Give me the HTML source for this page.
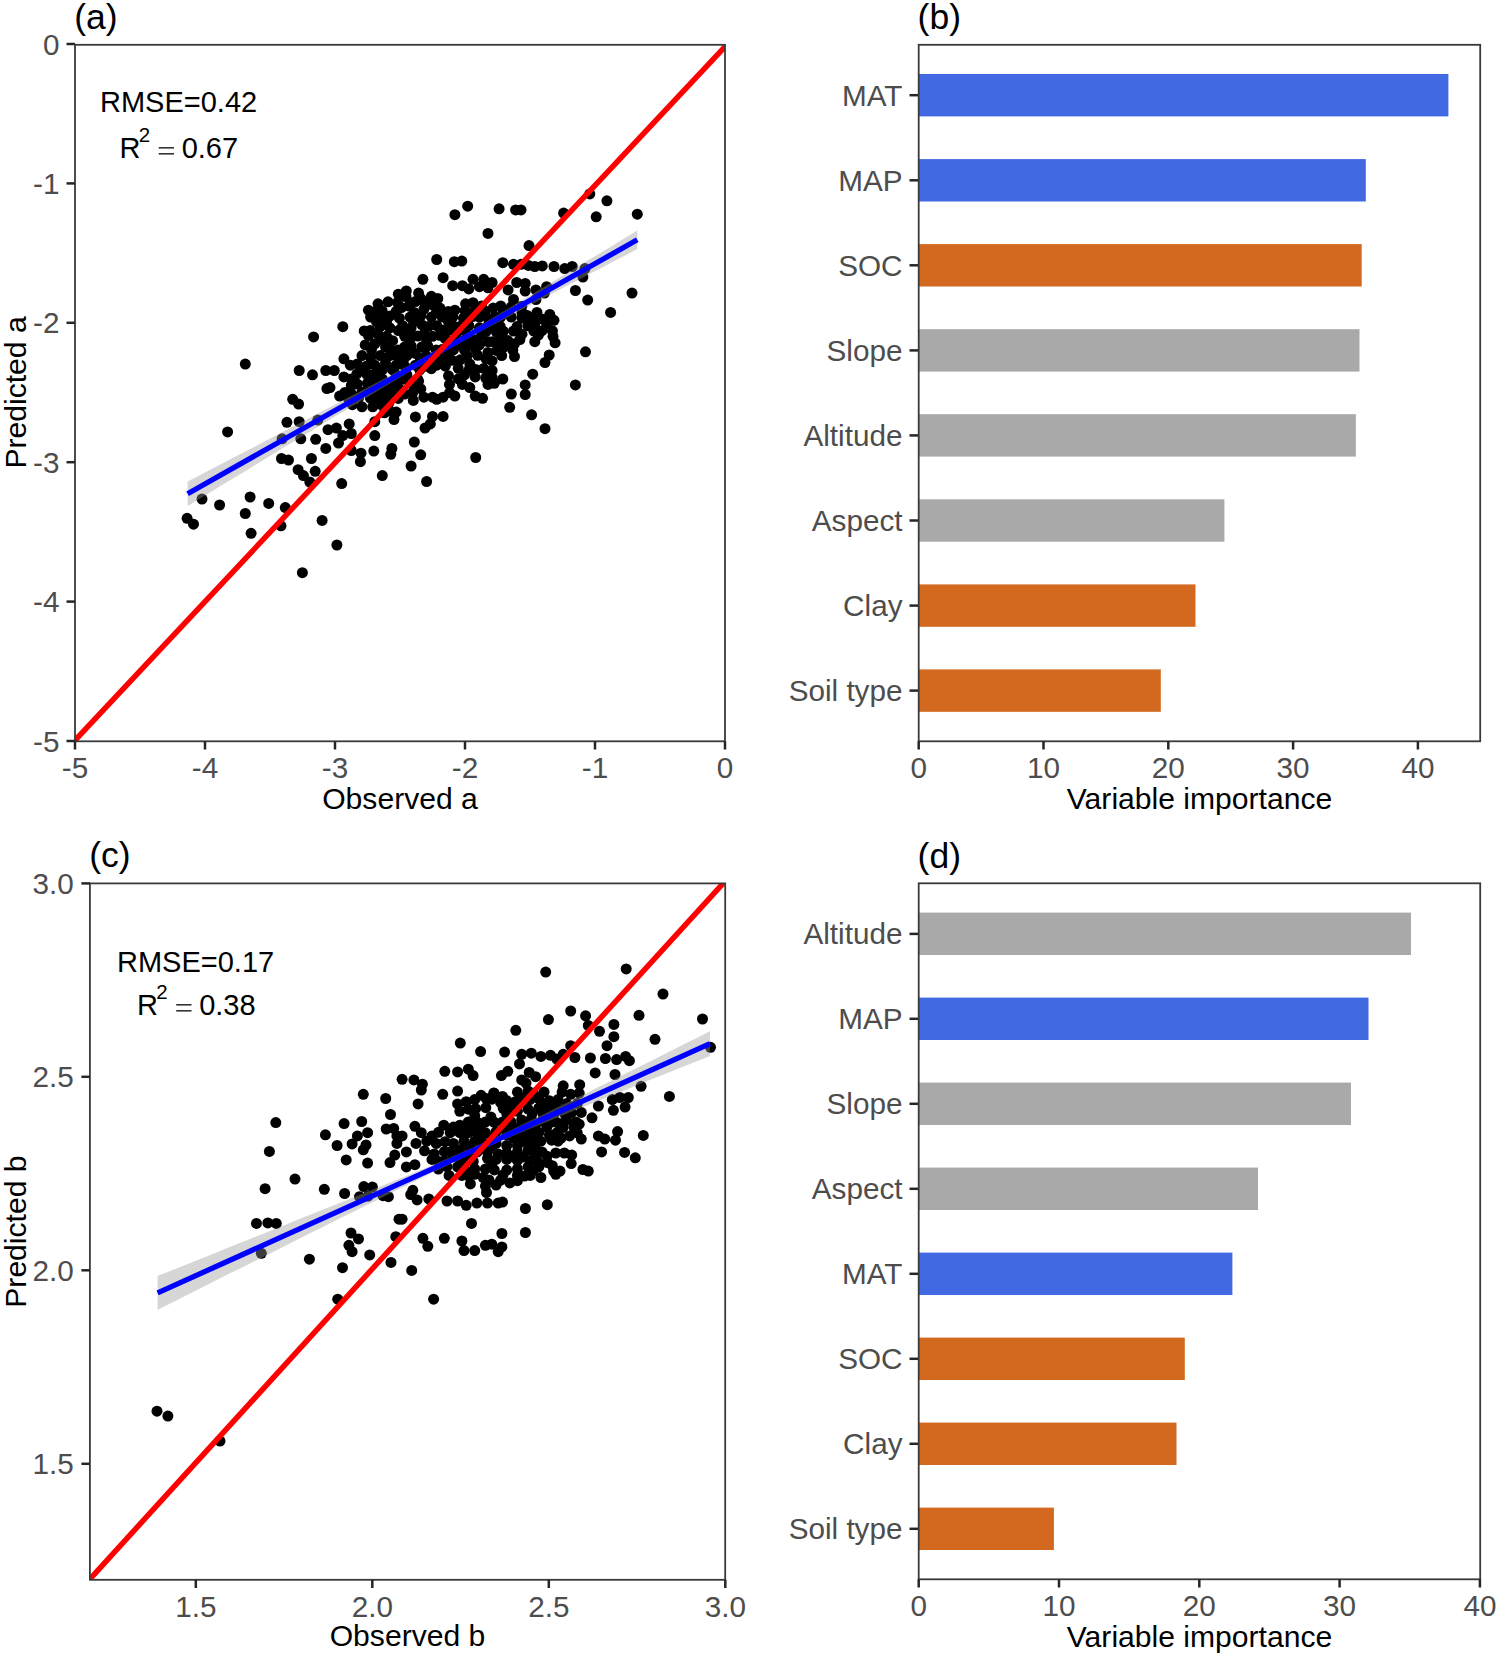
<!DOCTYPE html>
<html><head><meta charset="utf-8"><style>
html,body{margin:0;padding:0;background:#fff;}
svg{display:block;}
text{font-family:"Liberation Sans",sans-serif;}
</style></head><body>
<svg width="1499" height="1657" viewBox="0 0 1499 1657">
<rect width="1499" height="1657" fill="#fff"/>
<clipPath id="ca"><rect x="75" y="44.8" width="650" height="696.5"/></clipPath>
<g clip-path="url(#ca)">
<g fill="#000">
<circle cx="467.7" cy="206.2" r="5.5"/>
<circle cx="454.9" cy="214.7" r="5.5"/>
<circle cx="488.0" cy="233.4" r="5.5"/>
<circle cx="436.7" cy="259.5" r="5.5"/>
<circle cx="454.3" cy="261.7" r="5.5"/>
<circle cx="461.8" cy="261.1" r="5.5"/>
<circle cx="422.9" cy="279.3" r="5.5"/>
<circle cx="443.1" cy="277.7" r="5.5"/>
<circle cx="452.7" cy="285.7" r="5.5"/>
<circle cx="462.4" cy="285.7" r="5.5"/>
<circle cx="468.8" cy="288.9" r="5.5"/>
<circle cx="473.0" cy="279.3" r="5.5"/>
<circle cx="479.4" cy="286.7" r="5.5"/>
<circle cx="483.7" cy="279.3" r="5.5"/>
<circle cx="488.0" cy="287.8" r="5.5"/>
<circle cx="398.3" cy="294.2" r="5.5"/>
<circle cx="406.3" cy="291.0" r="5.5"/>
<circle cx="418.6" cy="293.1" r="5.5"/>
<circle cx="420.7" cy="298.5" r="5.5"/>
<circle cx="431.4" cy="296.3" r="5.5"/>
<circle cx="437.8" cy="298.5" r="5.5"/>
<circle cx="378.0" cy="303.8" r="5.5"/>
<circle cx="368.4" cy="310.2" r="5.5"/>
<circle cx="409.0" cy="306.0" r="5.5"/>
<circle cx="396.2" cy="311.3" r="5.5"/>
<circle cx="423.9" cy="309.2" r="5.5"/>
<circle cx="432.5" cy="304.9" r="5.5"/>
<circle cx="439.9" cy="308.1" r="5.5"/>
<circle cx="454.9" cy="310.2" r="5.5"/>
<circle cx="465.6" cy="303.8" r="5.5"/>
<circle cx="473.0" cy="302.7" r="5.5"/>
<circle cx="481.6" cy="306.0" r="5.5"/>
<circle cx="499.1" cy="208.8" r="5.5"/>
<circle cx="515.6" cy="209.9" r="5.5"/>
<circle cx="521.0" cy="209.9" r="5.5"/>
<circle cx="589.8" cy="193.9" r="5.5"/>
<circle cx="606.9" cy="200.8" r="5.5"/>
<circle cx="563.6" cy="213.1" r="5.5"/>
<circle cx="596.2" cy="216.8" r="5.5"/>
<circle cx="637.3" cy="214.2" r="5.5"/>
<circle cx="529.0" cy="245.6" r="5.5"/>
<circle cx="502.8" cy="262.7" r="5.5"/>
<circle cx="513.5" cy="264.3" r="5.5"/>
<circle cx="521.0" cy="264.3" r="5.5"/>
<circle cx="528.4" cy="265.4" r="5.5"/>
<circle cx="534.8" cy="266.5" r="5.5"/>
<circle cx="542.3" cy="265.9" r="5.5"/>
<circle cx="554.0" cy="266.5" r="5.5"/>
<circle cx="564.7" cy="268.6" r="5.5"/>
<circle cx="572.2" cy="266.5" r="5.5"/>
<circle cx="585.0" cy="268.6" r="5.5"/>
<circle cx="582.9" cy="277.1" r="5.5"/>
<circle cx="492.1" cy="282.5" r="5.5"/>
<circle cx="516.7" cy="282.5" r="5.5"/>
<circle cx="525.2" cy="283.5" r="5.5"/>
<circle cx="508.1" cy="289.9" r="5.5"/>
<circle cx="525.2" cy="291.0" r="5.5"/>
<circle cx="535.9" cy="289.9" r="5.5"/>
<circle cx="546.6" cy="286.7" r="5.5"/>
<circle cx="544.4" cy="293.1" r="5.5"/>
<circle cx="575.4" cy="290.5" r="5.5"/>
<circle cx="587.7" cy="300.1" r="5.5"/>
<circle cx="632.0" cy="293.1" r="5.5"/>
<circle cx="535.9" cy="299.5" r="5.5"/>
<circle cx="513.5" cy="299.5" r="5.5"/>
<circle cx="500.7" cy="306.0" r="5.5"/>
<circle cx="493.2" cy="308.1" r="5.5"/>
<circle cx="522.0" cy="312.4" r="5.5"/>
<circle cx="537.0" cy="312.4" r="5.5"/>
<circle cx="549.8" cy="314.5" r="5.5"/>
<circle cx="610.6" cy="312.4" r="5.5"/>
<circle cx="370.6" cy="317.1" r="5.5"/>
<circle cx="380.2" cy="317.1" r="5.5"/>
<circle cx="389.8" cy="316.1" r="5.5"/>
<circle cx="399.4" cy="318.2" r="5.5"/>
<circle cx="410.1" cy="317.1" r="5.5"/>
<circle cx="420.7" cy="316.1" r="5.5"/>
<circle cx="431.4" cy="317.1" r="5.5"/>
<circle cx="442.1" cy="317.1" r="5.5"/>
<circle cx="452.7" cy="317.1" r="5.5"/>
<circle cx="463.4" cy="318.2" r="5.5"/>
<circle cx="479.4" cy="317.1" r="5.5"/>
<circle cx="488.0" cy="318.2" r="5.5"/>
<circle cx="342.8" cy="326.7" r="5.5"/>
<circle cx="364.2" cy="331.0" r="5.5"/>
<circle cx="380.2" cy="326.7" r="5.5"/>
<circle cx="389.8" cy="327.8" r="5.5"/>
<circle cx="402.6" cy="325.7" r="5.5"/>
<circle cx="411.1" cy="327.8" r="5.5"/>
<circle cx="436.7" cy="325.7" r="5.5"/>
<circle cx="442.1" cy="329.9" r="5.5"/>
<circle cx="468.8" cy="325.7" r="5.5"/>
<circle cx="479.4" cy="327.8" r="5.5"/>
<circle cx="488.0" cy="325.7" r="5.5"/>
<circle cx="378.0" cy="334.2" r="5.5"/>
<circle cx="386.6" cy="336.3" r="5.5"/>
<circle cx="404.7" cy="336.3" r="5.5"/>
<circle cx="409.0" cy="333.1" r="5.5"/>
<circle cx="423.9" cy="334.2" r="5.5"/>
<circle cx="432.5" cy="336.3" r="5.5"/>
<circle cx="445.3" cy="338.5" r="5.5"/>
<circle cx="456.0" cy="334.2" r="5.5"/>
<circle cx="468.8" cy="336.3" r="5.5"/>
<circle cx="481.6" cy="335.3" r="5.5"/>
<circle cx="365.2" cy="344.9" r="5.5"/>
<circle cx="374.8" cy="343.8" r="5.5"/>
<circle cx="385.5" cy="347.0" r="5.5"/>
<circle cx="390.8" cy="350.2" r="5.5"/>
<circle cx="404.7" cy="347.0" r="5.5"/>
<circle cx="411.1" cy="346.0" r="5.5"/>
<circle cx="421.8" cy="347.0" r="5.5"/>
<circle cx="447.4" cy="347.0" r="5.5"/>
<circle cx="458.1" cy="344.9" r="5.5"/>
<circle cx="468.8" cy="344.9" r="5.5"/>
<circle cx="479.4" cy="344.9" r="5.5"/>
<circle cx="488.0" cy="341.7" r="5.5"/>
<circle cx="343.9" cy="358.8" r="5.5"/>
<circle cx="362.0" cy="355.6" r="5.5"/>
<circle cx="370.6" cy="357.7" r="5.5"/>
<circle cx="380.2" cy="355.6" r="5.5"/>
<circle cx="389.8" cy="355.6" r="5.5"/>
<circle cx="398.3" cy="357.7" r="5.5"/>
<circle cx="406.9" cy="355.6" r="5.5"/>
<circle cx="415.4" cy="353.4" r="5.5"/>
<circle cx="426.1" cy="355.6" r="5.5"/>
<circle cx="436.7" cy="355.6" r="5.5"/>
<circle cx="447.4" cy="355.6" r="5.5"/>
<circle cx="460.2" cy="359.8" r="5.5"/>
<circle cx="488.0" cy="352.4" r="5.5"/>
<circle cx="334.3" cy="370.5" r="5.5"/>
<circle cx="350.3" cy="365.2" r="5.5"/>
<circle cx="366.3" cy="366.2" r="5.5"/>
<circle cx="374.8" cy="365.2" r="5.5"/>
<circle cx="385.5" cy="363.0" r="5.5"/>
<circle cx="396.2" cy="365.2" r="5.5"/>
<circle cx="404.7" cy="366.2" r="5.5"/>
<circle cx="415.4" cy="365.2" r="5.5"/>
<circle cx="426.1" cy="366.2" r="5.5"/>
<circle cx="436.7" cy="365.2" r="5.5"/>
<circle cx="445.3" cy="366.2" r="5.5"/>
<circle cx="469.8" cy="364.1" r="5.5"/>
<circle cx="483.7" cy="368.4" r="5.5"/>
<circle cx="343.9" cy="376.9" r="5.5"/>
<circle cx="351.3" cy="379.0" r="5.5"/>
<circle cx="372.7" cy="374.8" r="5.5"/>
<circle cx="382.3" cy="379.0" r="5.5"/>
<circle cx="396.2" cy="374.8" r="5.5"/>
<circle cx="406.9" cy="374.8" r="5.5"/>
<circle cx="417.5" cy="379.0" r="5.5"/>
<circle cx="448.5" cy="375.8" r="5.5"/>
<circle cx="464.5" cy="374.8" r="5.5"/>
<circle cx="475.2" cy="376.9" r="5.5"/>
<circle cx="485.8" cy="378.0" r="5.5"/>
<circle cx="330.0" cy="387.6" r="5.5"/>
<circle cx="351.3" cy="385.4" r="5.5"/>
<circle cx="381.2" cy="385.4" r="5.5"/>
<circle cx="389.8" cy="387.6" r="5.5"/>
<circle cx="413.3" cy="385.4" r="5.5"/>
<circle cx="418.6" cy="381.2" r="5.5"/>
<circle cx="449.5" cy="384.4" r="5.5"/>
<circle cx="462.4" cy="384.4" r="5.5"/>
<circle cx="469.8" cy="387.6" r="5.5"/>
<circle cx="488.0" cy="384.4" r="5.5"/>
<circle cx="339.6" cy="396.1" r="5.5"/>
<circle cx="362.0" cy="391.9" r="5.5"/>
<circle cx="377.0" cy="391.9" r="5.5"/>
<circle cx="388.7" cy="394.0" r="5.5"/>
<circle cx="404.7" cy="394.0" r="5.5"/>
<circle cx="413.3" cy="400.4" r="5.5"/>
<circle cx="423.9" cy="397.2" r="5.5"/>
<circle cx="432.5" cy="397.2" r="5.5"/>
<circle cx="436.7" cy="399.3" r="5.5"/>
<circle cx="443.1" cy="397.2" r="5.5"/>
<circle cx="454.9" cy="396.1" r="5.5"/>
<circle cx="475.2" cy="396.1" r="5.5"/>
<circle cx="482.6" cy="398.3" r="5.5"/>
<circle cx="352.4" cy="404.7" r="5.5"/>
<circle cx="362.0" cy="406.8" r="5.5"/>
<circle cx="372.7" cy="406.8" r="5.5"/>
<circle cx="381.2" cy="404.7" r="5.5"/>
<circle cx="389.8" cy="411.1" r="5.5"/>
<circle cx="396.2" cy="412.1" r="5.5"/>
<circle cx="415.4" cy="416.9" r="5.5"/>
<circle cx="432.5" cy="416.4" r="5.5"/>
<circle cx="443.1" cy="416.4" r="5.5"/>
<circle cx="394.0" cy="419.6" r="5.5"/>
<circle cx="349.2" cy="423.9" r="5.5"/>
<circle cx="336.4" cy="428.1" r="5.5"/>
<circle cx="374.8" cy="421.7" r="5.5"/>
<circle cx="425.0" cy="428.1" r="5.5"/>
<circle cx="430.3" cy="423.9" r="5.5"/>
<circle cx="342.8" cy="435.6" r="5.5"/>
<circle cx="351.3" cy="433.5" r="5.5"/>
<circle cx="338.5" cy="443.1" r="5.5"/>
<circle cx="374.8" cy="435.6" r="5.5"/>
<circle cx="414.3" cy="442.0" r="5.5"/>
<circle cx="391.9" cy="448.4" r="5.5"/>
<circle cx="500.7" cy="317.1" r="5.5"/>
<circle cx="511.3" cy="317.1" r="5.5"/>
<circle cx="522.0" cy="318.2" r="5.5"/>
<circle cx="532.7" cy="318.2" r="5.5"/>
<circle cx="543.4" cy="319.3" r="5.5"/>
<circle cx="554.0" cy="320.3" r="5.5"/>
<circle cx="534.8" cy="323.5" r="5.5"/>
<circle cx="546.6" cy="323.5" r="5.5"/>
<circle cx="513.5" cy="331.0" r="5.5"/>
<circle cx="522.0" cy="334.2" r="5.5"/>
<circle cx="533.8" cy="331.0" r="5.5"/>
<circle cx="534.8" cy="341.7" r="5.5"/>
<circle cx="553.0" cy="336.3" r="5.5"/>
<circle cx="555.1" cy="342.8" r="5.5"/>
<circle cx="496.4" cy="332.1" r="5.5"/>
<circle cx="492.1" cy="341.7" r="5.5"/>
<circle cx="503.9" cy="347.0" r="5.5"/>
<circle cx="514.5" cy="343.8" r="5.5"/>
<circle cx="501.7" cy="355.6" r="5.5"/>
<circle cx="514.5" cy="356.6" r="5.5"/>
<circle cx="492.1" cy="360.9" r="5.5"/>
<circle cx="492.1" cy="370.5" r="5.5"/>
<circle cx="494.3" cy="383.3" r="5.5"/>
<circle cx="502.8" cy="379.0" r="5.5"/>
<circle cx="549.2" cy="355.0" r="5.5"/>
<circle cx="545.0" cy="362.5" r="5.5"/>
<circle cx="532.7" cy="374.2" r="5.5"/>
<circle cx="525.2" cy="384.9" r="5.5"/>
<circle cx="525.2" cy="394.5" r="5.5"/>
<circle cx="511.3" cy="394.0" r="5.5"/>
<circle cx="509.7" cy="407.3" r="5.5"/>
<circle cx="531.6" cy="414.8" r="5.5"/>
<circle cx="545.0" cy="428.7" r="5.5"/>
<circle cx="585.5" cy="351.8" r="5.5"/>
<circle cx="575.4" cy="384.9" r="5.5"/>
<circle cx="313.6" cy="336.9" r="5.5"/>
<circle cx="245.3" cy="364.1" r="5.5"/>
<circle cx="299.2" cy="370.5" r="5.5"/>
<circle cx="312.5" cy="374.8" r="5.5"/>
<circle cx="325.8" cy="370.5" r="5.5"/>
<circle cx="326.9" cy="388.6" r="5.5"/>
<circle cx="292.7" cy="399.3" r="5.5"/>
<circle cx="298.6" cy="404.1" r="5.5"/>
<circle cx="286.9" cy="422.3" r="5.5"/>
<circle cx="299.2" cy="421.7" r="5.5"/>
<circle cx="317.8" cy="420.1" r="5.5"/>
<circle cx="328.0" cy="429.7" r="5.5"/>
<circle cx="227.6" cy="431.9" r="5.5"/>
<circle cx="282.1" cy="438.8" r="5.5"/>
<circle cx="300.8" cy="438.8" r="5.5"/>
<circle cx="315.7" cy="439.3" r="5.5"/>
<circle cx="325.8" cy="448.4" r="5.5"/>
<circle cx="281.5" cy="458.5" r="5.5"/>
<circle cx="288.5" cy="460.1" r="5.5"/>
<circle cx="311.4" cy="458.5" r="5.5"/>
<circle cx="298.1" cy="469.7" r="5.5"/>
<circle cx="303.4" cy="475.6" r="5.5"/>
<circle cx="315.2" cy="471.3" r="5.5"/>
<circle cx="309.8" cy="482.0" r="5.5"/>
<circle cx="202.0" cy="499.1" r="5.5"/>
<circle cx="219.6" cy="505.0" r="5.5"/>
<circle cx="250.1" cy="497.0" r="5.5"/>
<circle cx="268.7" cy="503.4" r="5.5"/>
<circle cx="285.3" cy="507.6" r="5.5"/>
<circle cx="245.3" cy="513.5" r="5.5"/>
<circle cx="187.1" cy="518.3" r="5.5"/>
<circle cx="193.5" cy="524.2" r="5.5"/>
<circle cx="251.1" cy="533.3" r="5.5"/>
<circle cx="281.0" cy="525.8" r="5.5"/>
<circle cx="322.1" cy="520.4" r="5.5"/>
<circle cx="302.4" cy="572.7" r="5.5"/>
<circle cx="361.0" cy="453.2" r="5.5"/>
<circle cx="351.3" cy="450.5" r="5.5"/>
<circle cx="373.8" cy="451.1" r="5.5"/>
<circle cx="390.8" cy="454.3" r="5.5"/>
<circle cx="420.7" cy="454.8" r="5.5"/>
<circle cx="360.4" cy="461.7" r="5.5"/>
<circle cx="411.1" cy="466.0" r="5.5"/>
<circle cx="382.3" cy="475.6" r="5.5"/>
<circle cx="426.6" cy="481.5" r="5.5"/>
<circle cx="341.7" cy="483.6" r="5.5"/>
<circle cx="475.7" cy="457.5" r="5.5"/>
<circle cx="336.9" cy="545.0" r="5.5"/>
<circle cx="406.1" cy="296.9" r="5.5"/>
<circle cx="388.0" cy="301.8" r="5.5"/>
<circle cx="397.5" cy="302.5" r="5.5"/>
<circle cx="415.4" cy="301.6" r="5.5"/>
<circle cx="424.8" cy="302.3" r="5.5"/>
<circle cx="401.4" cy="307.6" r="5.5"/>
<circle cx="511.2" cy="307.2" r="5.5"/>
<circle cx="521.8" cy="306.2" r="5.5"/>
<circle cx="375.5" cy="311.7" r="5.5"/>
<circle cx="382.1" cy="310.6" r="5.5"/>
<circle cx="414.1" cy="312.4" r="5.5"/>
<circle cx="436.4" cy="312.4" r="5.5"/>
<circle cx="448.2" cy="311.4" r="5.5"/>
<circle cx="465.0" cy="310.8" r="5.5"/>
<circle cx="474.3" cy="311.1" r="5.5"/>
<circle cx="485.1" cy="310.9" r="5.5"/>
<circle cx="503.2" cy="310.9" r="5.5"/>
<circle cx="472.6" cy="316.6" r="5.5"/>
<circle cx="495.0" cy="316.9" r="5.5"/>
<circle cx="527.2" cy="315.4" r="5.5"/>
<circle cx="376.5" cy="321.7" r="5.5"/>
<circle cx="386.5" cy="321.2" r="5.5"/>
<circle cx="413.6" cy="321.9" r="5.5"/>
<circle cx="448.4" cy="321.6" r="5.5"/>
<circle cx="422.0" cy="324.9" r="5.5"/>
<circle cx="428.6" cy="326.4" r="5.5"/>
<circle cx="454.9" cy="326.8" r="5.5"/>
<circle cx="461.5" cy="325.6" r="5.5"/>
<circle cx="494.7" cy="326.4" r="5.5"/>
<circle cx="500.2" cy="326.4" r="5.5"/>
<circle cx="517.0" cy="326.6" r="5.5"/>
<circle cx="527.9" cy="325.8" r="5.5"/>
<circle cx="370.2" cy="330.5" r="5.5"/>
<circle cx="398.4" cy="330.6" r="5.5"/>
<circle cx="447.9" cy="330.3" r="5.5"/>
<circle cx="464.1" cy="330.7" r="5.5"/>
<circle cx="486.0" cy="331.5" r="5.5"/>
<circle cx="503.4" cy="331.3" r="5.5"/>
<circle cx="542.0" cy="330.7" r="5.5"/>
<circle cx="552.4" cy="330.8" r="5.5"/>
<circle cx="368.5" cy="335.7" r="5.5"/>
<circle cx="417.8" cy="336.1" r="5.5"/>
<circle cx="439.3" cy="335.3" r="5.5"/>
<circle cx="500.4" cy="336.4" r="5.5"/>
<circle cx="538.4" cy="335.2" r="5.5"/>
<circle cx="381.7" cy="339.8" r="5.5"/>
<circle cx="392.6" cy="340.7" r="5.5"/>
<circle cx="409.5" cy="340.2" r="5.5"/>
<circle cx="426.5" cy="339.7" r="5.5"/>
<circle cx="453.3" cy="341.2" r="5.5"/>
<circle cx="463.7" cy="341.1" r="5.5"/>
<circle cx="475.2" cy="340.1" r="5.5"/>
<circle cx="507.8" cy="340.6" r="5.5"/>
<circle cx="519.9" cy="339.5" r="5.5"/>
<circle cx="427.7" cy="345.8" r="5.5"/>
<circle cx="498.8" cy="344.1" r="5.5"/>
<circle cx="371.5" cy="349.5" r="5.5"/>
<circle cx="398.1" cy="349.9" r="5.5"/>
<circle cx="436.1" cy="349.9" r="5.5"/>
<circle cx="442.0" cy="349.6" r="5.5"/>
<circle cx="453.4" cy="349.9" r="5.5"/>
<circle cx="464.5" cy="350.2" r="5.5"/>
<circle cx="475.4" cy="349.1" r="5.5"/>
<circle cx="496.7" cy="350.6" r="5.5"/>
<circle cx="512.8" cy="350.0" r="5.5"/>
<circle cx="467.2" cy="355.6" r="5.5"/>
<circle cx="477.6" cy="355.3" r="5.5"/>
<circle cx="403.4" cy="360.0" r="5.5"/>
<circle cx="420.4" cy="359.5" r="5.5"/>
<circle cx="430.3" cy="359.7" r="5.5"/>
<circle cx="442.3" cy="359.3" r="5.5"/>
<circle cx="452.1" cy="360.3" r="5.5"/>
<circle cx="485.9" cy="358.7" r="5.5"/>
<circle cx="357.3" cy="363.9" r="5.5"/>
<circle cx="360.5" cy="369.1" r="5.5"/>
<circle cx="382.5" cy="369.5" r="5.5"/>
<circle cx="392.5" cy="369.6" r="5.5"/>
<circle cx="419.8" cy="369.9" r="5.5"/>
<circle cx="431.3" cy="368.7" r="5.5"/>
<circle cx="458.2" cy="368.3" r="5.5"/>
<circle cx="469.1" cy="369.7" r="5.5"/>
<circle cx="475.6" cy="369.5" r="5.5"/>
<circle cx="356.9" cy="373.9" r="5.5"/>
<circle cx="367.1" cy="374.6" r="5.5"/>
<circle cx="378.4" cy="374.2" r="5.5"/>
<circle cx="403.5" cy="379.2" r="5.5"/>
<circle cx="458.4" cy="378.8" r="5.5"/>
<circle cx="492.3" cy="377.9" r="5.5"/>
<circle cx="357.3" cy="384.1" r="5.5"/>
<circle cx="367.4" cy="383.3" r="5.5"/>
<circle cx="373.7" cy="382.4" r="5.5"/>
<circle cx="395.5" cy="382.9" r="5.5"/>
<circle cx="398.8" cy="388.4" r="5.5"/>
<circle cx="420.8" cy="388.9" r="5.5"/>
<circle cx="344.9" cy="392.4" r="5.5"/>
<circle cx="351.5" cy="393.8" r="5.5"/>
<circle cx="367.6" cy="392.6" r="5.5"/>
<circle cx="383.5" cy="392.2" r="5.5"/>
<circle cx="394.6" cy="392.3" r="5.5"/>
<circle cx="412.6" cy="393.0" r="5.5"/>
<circle cx="449.6" cy="392.6" r="5.5"/>
<circle cx="348.5" cy="398.6" r="5.5"/>
<circle cx="358.7" cy="397.5" r="5.5"/>
<circle cx="370.3" cy="398.0" r="5.5"/>
<circle cx="376.2" cy="397.8" r="5.5"/>
<circle cx="381.8" cy="398.0" r="5.5"/>
<circle cx="398.2" cy="398.4" r="5.5"/>
<circle cx="388.9" cy="402.9" r="5.5"/>
<circle cx="384.4" cy="412.8" r="5.5"/>
</g>
<polygon points="187.6,481.5 198.8,475.7 210.1,469.8 221.3,464.0 232.6,458.1 243.8,452.2 255.1,446.4 266.3,440.5 277.5,434.7 288.8,428.8 300.0,422.9 311.3,417.0 322.5,411.2 333.8,405.3 345.0,399.3 356.2,393.4 367.5,387.5 378.7,381.5 390.0,375.5 401.2,369.5 412.4,363.4 423.7,357.3 434.9,351.1 446.2,344.7 457.4,338.4 468.7,331.9 479.9,325.3 491.1,318.7 502.4,312.0 513.6,305.3 524.9,298.6 536.1,291.8 547.4,285.1 558.6,278.3 569.8,271.5 581.1,264.6 592.3,257.8 603.6,251.0 614.8,244.2 626.1,237.3 637.3,230.5 637.3,249.1 626.1,255.0 614.8,260.8 603.6,266.7 592.3,272.6 581.1,278.5 569.8,284.3 558.6,290.2 547.4,296.1 536.1,302.1 524.9,308.0 513.6,314.0 502.4,320.0 491.1,326.0 479.9,332.1 468.7,338.2 457.4,344.4 446.2,350.8 434.9,357.1 423.7,363.6 412.4,370.2 401.2,376.8 390.0,383.5 378.7,390.2 367.5,396.9 356.2,403.7 345.0,410.5 333.8,417.2 322.5,424.0 311.3,430.9 300.0,437.7 288.8,444.5 277.5,451.3 266.3,458.2 255.1,465.0 243.8,471.9 232.6,478.7 221.3,485.5 210.1,492.4 198.8,499.2 187.6,506.1" fill="#999999" fill-opacity="0.4"/>
<polyline points="187.6,493.8 637.3,239.8" fill="none" stroke="#0000ff" stroke-width="5.3"/>
<line x1="74.4" y1="741.0" x2="727.5" y2="44.0" stroke="#ff0000" stroke-width="5.5"/>
</g>
<rect x="75" y="44.8" width="650" height="696.5" fill="none" stroke="#3a3a3a" stroke-width="1.8"/>
<line x1="75" y1="741.3" x2="75" y2="749.5" stroke="#262626" stroke-width="2.5"/>
<text x="75.0" y="778.3" font-size="29.7" fill="#4d4d4d" text-anchor="middle" >-5</text>
<line x1="66.5" y1="741.0" x2="75" y2="741.0" stroke="#262626" stroke-width="2.5"/>
<text x="59.5" y="751.5" font-size="29.7" fill="#4d4d4d" text-anchor="end" >-5</text>
<line x1="205" y1="741.3" x2="205" y2="749.5" stroke="#262626" stroke-width="2.5"/>
<text x="205.0" y="778.3" font-size="29.7" fill="#4d4d4d" text-anchor="middle" >-4</text>
<line x1="66.5" y1="601.6" x2="75" y2="601.6" stroke="#262626" stroke-width="2.5"/>
<text x="59.5" y="612.1" font-size="29.7" fill="#4d4d4d" text-anchor="end" >-4</text>
<line x1="335" y1="741.3" x2="335" y2="749.5" stroke="#262626" stroke-width="2.5"/>
<text x="335.0" y="778.3" font-size="29.7" fill="#4d4d4d" text-anchor="middle" >-3</text>
<line x1="66.5" y1="462.20000000000005" x2="75" y2="462.20000000000005" stroke="#262626" stroke-width="2.5"/>
<text x="59.5" y="472.7" font-size="29.7" fill="#4d4d4d" text-anchor="end" >-3</text>
<line x1="465" y1="741.3" x2="465" y2="749.5" stroke="#262626" stroke-width="2.5"/>
<text x="465.0" y="778.3" font-size="29.7" fill="#4d4d4d" text-anchor="middle" >-2</text>
<line x1="66.5" y1="322.8" x2="75" y2="322.8" stroke="#262626" stroke-width="2.5"/>
<text x="59.5" y="333.3" font-size="29.7" fill="#4d4d4d" text-anchor="end" >-2</text>
<line x1="595" y1="741.3" x2="595" y2="749.5" stroke="#262626" stroke-width="2.5"/>
<text x="595.0" y="778.3" font-size="29.7" fill="#4d4d4d" text-anchor="middle" >-1</text>
<line x1="66.5" y1="183.4" x2="75" y2="183.4" stroke="#262626" stroke-width="2.5"/>
<text x="59.5" y="193.9" font-size="29.7" fill="#4d4d4d" text-anchor="end" >-1</text>
<line x1="725" y1="741.3" x2="725" y2="749.5" stroke="#262626" stroke-width="2.5"/>
<text x="725.0" y="778.3" font-size="29.7" fill="#4d4d4d" text-anchor="middle" >0</text>
<line x1="66.5" y1="44.0" x2="75" y2="44.0" stroke="#262626" stroke-width="2.5"/>
<text x="59.5" y="54.5" font-size="29.7" fill="#4d4d4d" text-anchor="end" >0</text>
<text x="400.0" y="808.6" font-size="30.1" fill="#000" text-anchor="middle" >Observed a</text>
<text transform="translate(26.1,392.5) rotate(-90)" font-size="30.1" text-anchor="middle" fill="#000">Predicted a</text>
<text x="74.3" y="28.6" font-size="35.5" fill="#000" text-anchor="start" >(a)</text>
<text x="100.0" y="111.8" font-size="29.0" fill="#000" text-anchor="start" >RMSE=0.42</text>
<text x="119.5" y="158.3" font-size="29.0" fill="#000">R</text>
<text x="138.8" y="142.4" font-size="20.5" fill="#000">2</text>
<line x1="158.7" y1="147.8" x2="174.0" y2="147.8" stroke="#333" stroke-width="1.6"/>
<line x1="158.7" y1="153.8" x2="174.0" y2="153.8" stroke="#333" stroke-width="1.6"/>
<text x="181.7" y="158.3" font-size="29.0" fill="#000">0.67</text>
<clipPath id="cc"><rect x="89.9" y="883.4" width="635.3000000000001" height="696.4"/></clipPath>
<g clip-path="url(#cc)">
<g fill="#000">
<circle cx="157.0" cy="1411.2" r="5.5"/>
<circle cx="167.9" cy="1416.1" r="5.5"/>
<circle cx="220.0" cy="1441.1" r="5.5"/>
<circle cx="545.7" cy="972.1" r="5.5"/>
<circle cx="548.4" cy="1019.6" r="5.5"/>
<circle cx="515.8" cy="1030.3" r="5.5"/>
<circle cx="460.3" cy="1043.1" r="5.5"/>
<circle cx="480.6" cy="1051.6" r="5.5"/>
<circle cx="504.6" cy="1052.1" r="5.5"/>
<circle cx="521.7" cy="1054.3" r="5.5"/>
<circle cx="531.3" cy="1053.2" r="5.5"/>
<circle cx="540.9" cy="1056.4" r="5.5"/>
<circle cx="550.5" cy="1055.3" r="5.5"/>
<circle cx="556.9" cy="1059.1" r="5.5"/>
<circle cx="519.5" cy="1063.9" r="5.5"/>
<circle cx="444.8" cy="1071.3" r="5.5"/>
<circle cx="457.6" cy="1071.9" r="5.5"/>
<circle cx="468.3" cy="1069.2" r="5.5"/>
<circle cx="473.1" cy="1075.6" r="5.5"/>
<circle cx="501.4" cy="1075.6" r="5.5"/>
<circle cx="507.8" cy="1071.3" r="5.5"/>
<circle cx="529.2" cy="1072.4" r="5.5"/>
<circle cx="535.6" cy="1076.7" r="5.5"/>
<circle cx="526.0" cy="1083.1" r="5.5"/>
<circle cx="521.7" cy="1079.9" r="5.5"/>
<circle cx="402.1" cy="1079.3" r="5.5"/>
<circle cx="413.9" cy="1079.9" r="5.5"/>
<circle cx="422.4" cy="1084.2" r="5.5"/>
<circle cx="626.2" cy="968.9" r="5.5"/>
<circle cx="663.0" cy="994.0" r="5.5"/>
<circle cx="570.7" cy="1011.0" r="5.5"/>
<circle cx="585.6" cy="1015.8" r="5.5"/>
<circle cx="588.3" cy="1025.4" r="5.5"/>
<circle cx="599.5" cy="1031.3" r="5.5"/>
<circle cx="613.9" cy="1024.4" r="5.5"/>
<circle cx="613.9" cy="1036.7" r="5.5"/>
<circle cx="607.0" cy="1045.7" r="5.5"/>
<circle cx="639.0" cy="1015.3" r="5.5"/>
<circle cx="702.5" cy="1019.0" r="5.5"/>
<circle cx="655.0" cy="1039.3" r="5.5"/>
<circle cx="710.5" cy="1047.3" r="5.5"/>
<circle cx="570.7" cy="1045.7" r="5.5"/>
<circle cx="563.2" cy="1054.3" r="5.5"/>
<circle cx="574.9" cy="1057.5" r="5.5"/>
<circle cx="590.4" cy="1058.0" r="5.5"/>
<circle cx="605.4" cy="1058.5" r="5.5"/>
<circle cx="616.6" cy="1059.6" r="5.5"/>
<circle cx="625.6" cy="1056.4" r="5.5"/>
<circle cx="629.4" cy="1060.7" r="5.5"/>
<circle cx="595.2" cy="1072.9" r="5.5"/>
<circle cx="615.0" cy="1074.5" r="5.5"/>
<circle cx="563.2" cy="1085.8" r="5.5"/>
<circle cx="579.7" cy="1084.7" r="5.5"/>
<circle cx="641.1" cy="1086.3" r="5.5"/>
<circle cx="363.3" cy="1094.3" r="5.5"/>
<circle cx="385.7" cy="1098.5" r="5.5"/>
<circle cx="390.5" cy="1114.5" r="5.5"/>
<circle cx="275.8" cy="1122.6" r="5.5"/>
<circle cx="344.1" cy="1123.6" r="5.5"/>
<circle cx="361.7" cy="1121.5" r="5.5"/>
<circle cx="325.4" cy="1134.8" r="5.5"/>
<circle cx="367.6" cy="1132.7" r="5.5"/>
<circle cx="357.4" cy="1135.9" r="5.5"/>
<circle cx="386.2" cy="1129.0" r="5.5"/>
<circle cx="393.7" cy="1128.4" r="5.5"/>
<circle cx="396.9" cy="1135.9" r="5.5"/>
<circle cx="396.9" cy="1143.4" r="5.5"/>
<circle cx="337.1" cy="1145.5" r="5.5"/>
<circle cx="352.1" cy="1143.9" r="5.5"/>
<circle cx="366.0" cy="1145.0" r="5.5"/>
<circle cx="363.3" cy="1149.8" r="5.5"/>
<circle cx="269.4" cy="1151.4" r="5.5"/>
<circle cx="346.2" cy="1159.9" r="5.5"/>
<circle cx="367.6" cy="1163.1" r="5.5"/>
<circle cx="394.8" cy="1155.1" r="5.5"/>
<circle cx="390.0" cy="1162.6" r="5.5"/>
<circle cx="295.0" cy="1179.1" r="5.5"/>
<circle cx="265.1" cy="1188.7" r="5.5"/>
<circle cx="324.3" cy="1189.3" r="5.5"/>
<circle cx="344.6" cy="1193.5" r="5.5"/>
<circle cx="363.8" cy="1186.6" r="5.5"/>
<circle cx="372.4" cy="1187.1" r="5.5"/>
<circle cx="359.5" cy="1196.7" r="5.5"/>
<circle cx="368.1" cy="1196.2" r="5.5"/>
<circle cx="383.0" cy="1195.7" r="5.5"/>
<circle cx="388.4" cy="1196.7" r="5.5"/>
<circle cx="399.0" cy="1219.2" r="5.5"/>
<circle cx="256.5" cy="1223.4" r="5.5"/>
<circle cx="267.8" cy="1222.9" r="5.5"/>
<circle cx="276.3" cy="1223.4" r="5.5"/>
<circle cx="421.3" cy="1090.0" r="5.5"/>
<circle cx="442.7" cy="1094.3" r="5.5"/>
<circle cx="457.6" cy="1091.1" r="5.5"/>
<circle cx="481.1" cy="1095.3" r="5.5"/>
<circle cx="493.9" cy="1093.2" r="5.5"/>
<circle cx="502.5" cy="1096.4" r="5.5"/>
<circle cx="517.4" cy="1092.1" r="5.5"/>
<circle cx="528.1" cy="1091.1" r="5.5"/>
<circle cx="544.1" cy="1092.1" r="5.5"/>
<circle cx="418.1" cy="1103.9" r="5.5"/>
<circle cx="457.6" cy="1103.9" r="5.5"/>
<circle cx="466.2" cy="1101.7" r="5.5"/>
<circle cx="474.7" cy="1099.6" r="5.5"/>
<circle cx="493.9" cy="1093.0" r="5.5"/>
<circle cx="506.7" cy="1100.7" r="5.5"/>
<circle cx="515.3" cy="1101.7" r="5.5"/>
<circle cx="538.8" cy="1098.5" r="5.5"/>
<circle cx="549.4" cy="1100.7" r="5.5"/>
<circle cx="558.0" cy="1099.6" r="5.5"/>
<circle cx="459.8" cy="1111.3" r="5.5"/>
<circle cx="468.3" cy="1109.2" r="5.5"/>
<circle cx="474.7" cy="1115.6" r="5.5"/>
<circle cx="506.7" cy="1113.5" r="5.5"/>
<circle cx="517.4" cy="1111.3" r="5.5"/>
<circle cx="528.1" cy="1109.2" r="5.5"/>
<circle cx="538.8" cy="1108.1" r="5.5"/>
<circle cx="549.4" cy="1108.1" r="5.5"/>
<circle cx="414.9" cy="1126.3" r="5.5"/>
<circle cx="443.8" cy="1125.2" r="5.5"/>
<circle cx="459.8" cy="1125.2" r="5.5"/>
<circle cx="468.3" cy="1122.0" r="5.5"/>
<circle cx="476.9" cy="1122.0" r="5.5"/>
<circle cx="485.4" cy="1122.0" r="5.5"/>
<circle cx="493.9" cy="1122.0" r="5.5"/>
<circle cx="502.5" cy="1122.0" r="5.5"/>
<circle cx="511.0" cy="1122.0" r="5.5"/>
<circle cx="521.7" cy="1119.9" r="5.5"/>
<circle cx="531.3" cy="1118.8" r="5.5"/>
<circle cx="542.0" cy="1121.0" r="5.5"/>
<circle cx="551.6" cy="1122.0" r="5.5"/>
<circle cx="558.0" cy="1123.1" r="5.5"/>
<circle cx="402.1" cy="1135.9" r="5.5"/>
<circle cx="421.3" cy="1132.7" r="5.5"/>
<circle cx="432.0" cy="1135.9" r="5.5"/>
<circle cx="450.2" cy="1132.7" r="5.5"/>
<circle cx="459.8" cy="1132.7" r="5.5"/>
<circle cx="468.3" cy="1132.7" r="5.5"/>
<circle cx="476.9" cy="1132.7" r="5.5"/>
<circle cx="485.4" cy="1132.7" r="5.5"/>
<circle cx="496.1" cy="1131.6" r="5.5"/>
<circle cx="506.7" cy="1134.8" r="5.5"/>
<circle cx="519.5" cy="1134.8" r="5.5"/>
<circle cx="528.1" cy="1132.7" r="5.5"/>
<circle cx="538.8" cy="1132.7" r="5.5"/>
<circle cx="549.4" cy="1134.8" r="5.5"/>
<circle cx="556.9" cy="1132.7" r="5.5"/>
<circle cx="416.0" cy="1143.4" r="5.5"/>
<circle cx="426.7" cy="1141.2" r="5.5"/>
<circle cx="436.3" cy="1143.4" r="5.5"/>
<circle cx="453.4" cy="1143.4" r="5.5"/>
<circle cx="464.0" cy="1141.2" r="5.5"/>
<circle cx="474.7" cy="1141.2" r="5.5"/>
<circle cx="496.1" cy="1143.4" r="5.5"/>
<circle cx="506.7" cy="1145.5" r="5.5"/>
<circle cx="517.4" cy="1145.5" r="5.5"/>
<circle cx="528.1" cy="1140.2" r="5.5"/>
<circle cx="540.9" cy="1141.2" r="5.5"/>
<circle cx="551.6" cy="1140.2" r="5.5"/>
<circle cx="558.0" cy="1141.2" r="5.5"/>
<circle cx="406.4" cy="1151.9" r="5.5"/>
<circle cx="424.5" cy="1150.8" r="5.5"/>
<circle cx="434.2" cy="1154.0" r="5.5"/>
<circle cx="450.2" cy="1151.9" r="5.5"/>
<circle cx="459.8" cy="1149.8" r="5.5"/>
<circle cx="487.5" cy="1151.9" r="5.5"/>
<circle cx="498.2" cy="1154.0" r="5.5"/>
<circle cx="506.7" cy="1153.0" r="5.5"/>
<circle cx="517.4" cy="1151.9" r="5.5"/>
<circle cx="528.1" cy="1149.8" r="5.5"/>
<circle cx="542.0" cy="1151.9" r="5.5"/>
<circle cx="555.8" cy="1153.0" r="5.5"/>
<circle cx="432.0" cy="1159.4" r="5.5"/>
<circle cx="487.5" cy="1158.3" r="5.5"/>
<circle cx="496.1" cy="1159.4" r="5.5"/>
<circle cx="506.7" cy="1159.4" r="5.5"/>
<circle cx="517.4" cy="1160.4" r="5.5"/>
<circle cx="530.2" cy="1160.4" r="5.5"/>
<circle cx="547.3" cy="1162.6" r="5.5"/>
<circle cx="406.4" cy="1166.9" r="5.5"/>
<circle cx="414.9" cy="1164.7" r="5.5"/>
<circle cx="438.4" cy="1169.0" r="5.5"/>
<circle cx="457.6" cy="1166.9" r="5.5"/>
<circle cx="466.2" cy="1171.1" r="5.5"/>
<circle cx="474.7" cy="1169.0" r="5.5"/>
<circle cx="485.4" cy="1169.0" r="5.5"/>
<circle cx="506.7" cy="1170.1" r="5.5"/>
<circle cx="517.4" cy="1169.0" r="5.5"/>
<circle cx="528.1" cy="1166.9" r="5.5"/>
<circle cx="538.8" cy="1166.9" r="5.5"/>
<circle cx="553.7" cy="1171.1" r="5.5"/>
<circle cx="449.1" cy="1175.4" r="5.5"/>
<circle cx="461.9" cy="1175.4" r="5.5"/>
<circle cx="474.7" cy="1174.3" r="5.5"/>
<circle cx="483.3" cy="1177.5" r="5.5"/>
<circle cx="517.4" cy="1175.4" r="5.5"/>
<circle cx="530.2" cy="1175.4" r="5.5"/>
<circle cx="540.9" cy="1177.5" r="5.5"/>
<circle cx="555.8" cy="1174.3" r="5.5"/>
<circle cx="470.4" cy="1183.9" r="5.5"/>
<circle cx="485.4" cy="1186.1" r="5.5"/>
<circle cx="496.1" cy="1185.0" r="5.5"/>
<circle cx="509.9" cy="1182.9" r="5.5"/>
<circle cx="517.4" cy="1180.7" r="5.5"/>
<circle cx="412.8" cy="1190.3" r="5.5"/>
<circle cx="486.5" cy="1192.5" r="5.5"/>
<circle cx="410.7" cy="1194.6" r="5.5"/>
<circle cx="417.1" cy="1199.9" r="5.5"/>
<circle cx="428.8" cy="1198.9" r="5.5"/>
<circle cx="447.0" cy="1201.0" r="5.5"/>
<circle cx="457.6" cy="1201.0" r="5.5"/>
<circle cx="466.2" cy="1205.3" r="5.5"/>
<circle cx="476.9" cy="1203.1" r="5.5"/>
<circle cx="487.5" cy="1203.1" r="5.5"/>
<circle cx="498.2" cy="1203.1" r="5.5"/>
<circle cx="502.5" cy="1202.1" r="5.5"/>
<circle cx="525.4" cy="1208.5" r="5.5"/>
<circle cx="547.3" cy="1204.7" r="5.5"/>
<circle cx="402.1" cy="1219.2" r="5.5"/>
<circle cx="471.5" cy="1223.4" r="5.5"/>
<circle cx="669.4" cy="1096.4" r="5.5"/>
<circle cx="562.1" cy="1092.1" r="5.5"/>
<circle cx="570.7" cy="1094.3" r="5.5"/>
<circle cx="579.2" cy="1093.2" r="5.5"/>
<circle cx="598.4" cy="1106.0" r="5.5"/>
<circle cx="612.3" cy="1099.6" r="5.5"/>
<circle cx="613.4" cy="1110.3" r="5.5"/>
<circle cx="619.8" cy="1097.5" r="5.5"/>
<circle cx="628.3" cy="1097.5" r="5.5"/>
<circle cx="625.1" cy="1107.1" r="5.5"/>
<circle cx="581.3" cy="1112.4" r="5.5"/>
<circle cx="576.0" cy="1122.0" r="5.5"/>
<circle cx="566.4" cy="1119.9" r="5.5"/>
<circle cx="579.2" cy="1124.2" r="5.5"/>
<circle cx="592.0" cy="1117.8" r="5.5"/>
<circle cx="569.6" cy="1135.9" r="5.5"/>
<circle cx="581.3" cy="1139.1" r="5.5"/>
<circle cx="561.1" cy="1138.0" r="5.5"/>
<circle cx="598.4" cy="1135.9" r="5.5"/>
<circle cx="604.8" cy="1139.1" r="5.5"/>
<circle cx="617.6" cy="1131.6" r="5.5"/>
<circle cx="615.5" cy="1140.2" r="5.5"/>
<circle cx="601.6" cy="1151.9" r="5.5"/>
<circle cx="624.6" cy="1152.4" r="5.5"/>
<circle cx="635.3" cy="1157.8" r="5.5"/>
<circle cx="643.3" cy="1135.4" r="5.5"/>
<circle cx="564.3" cy="1153.0" r="5.5"/>
<circle cx="571.7" cy="1155.1" r="5.5"/>
<circle cx="571.2" cy="1163.6" r="5.5"/>
<circle cx="582.9" cy="1169.5" r="5.5"/>
<circle cx="588.3" cy="1171.1" r="5.5"/>
<circle cx="560.0" cy="1171.1" r="5.5"/>
<circle cx="261.3" cy="1253.3" r="5.5"/>
<circle cx="309.4" cy="1259.2" r="5.5"/>
<circle cx="351.0" cy="1233.0" r="5.5"/>
<circle cx="358.5" cy="1238.9" r="5.5"/>
<circle cx="348.9" cy="1245.3" r="5.5"/>
<circle cx="352.1" cy="1251.7" r="5.5"/>
<circle cx="369.7" cy="1254.9" r="5.5"/>
<circle cx="342.5" cy="1267.7" r="5.5"/>
<circle cx="391.0" cy="1262.4" r="5.5"/>
<circle cx="395.8" cy="1236.7" r="5.5"/>
<circle cx="337.7" cy="1299.2" r="5.5"/>
<circle cx="422.9" cy="1238.3" r="5.5"/>
<circle cx="427.8" cy="1246.3" r="5.5"/>
<circle cx="444.3" cy="1238.3" r="5.5"/>
<circle cx="461.9" cy="1241.0" r="5.5"/>
<circle cx="464.0" cy="1250.6" r="5.5"/>
<circle cx="474.7" cy="1250.6" r="5.5"/>
<circle cx="485.4" cy="1245.3" r="5.5"/>
<circle cx="491.8" cy="1244.2" r="5.5"/>
<circle cx="498.2" cy="1251.7" r="5.5"/>
<circle cx="501.9" cy="1246.9" r="5.5"/>
<circle cx="501.9" cy="1233.5" r="5.5"/>
<circle cx="525.4" cy="1232.5" r="5.5"/>
<circle cx="411.7" cy="1270.4" r="5.5"/>
<circle cx="433.6" cy="1299.2" r="5.5"/>
<circle cx="533.5" cy="1093.2" r="5.5"/>
<circle cx="486.3" cy="1098.6" r="5.5"/>
<circle cx="491.9" cy="1099.2" r="5.5"/>
<circle cx="523.6" cy="1097.9" r="5.5"/>
<circle cx="530.0" cy="1099.5" r="5.5"/>
<circle cx="500.7" cy="1102.7" r="5.5"/>
<circle cx="520.8" cy="1102.9" r="5.5"/>
<circle cx="543.3" cy="1103.6" r="5.5"/>
<circle cx="554.3" cy="1103.9" r="5.5"/>
<circle cx="566.7" cy="1103.6" r="5.5"/>
<circle cx="577.3" cy="1103.6" r="5.5"/>
<circle cx="475.6" cy="1108.7" r="5.5"/>
<circle cx="485.8" cy="1107.7" r="5.5"/>
<circle cx="503.2" cy="1108.3" r="5.5"/>
<circle cx="509.0" cy="1108.2" r="5.5"/>
<circle cx="558.3" cy="1108.8" r="5.5"/>
<circle cx="532.3" cy="1113.3" r="5.5"/>
<circle cx="543.1" cy="1113.7" r="5.5"/>
<circle cx="554.2" cy="1114.0" r="5.5"/>
<circle cx="564.8" cy="1113.9" r="5.5"/>
<circle cx="571.5" cy="1112.7" r="5.5"/>
<circle cx="490.9" cy="1116.9" r="5.5"/>
<circle cx="526.6" cy="1123.4" r="5.5"/>
<circle cx="453.5" cy="1127.1" r="5.5"/>
<circle cx="464.6" cy="1128.1" r="5.5"/>
<circle cx="474.5" cy="1127.5" r="5.5"/>
<circle cx="480.2" cy="1127.1" r="5.5"/>
<circle cx="503.5" cy="1127.9" r="5.5"/>
<circle cx="513.6" cy="1128.2" r="5.5"/>
<circle cx="519.7" cy="1127.0" r="5.5"/>
<circle cx="535.2" cy="1127.6" r="5.5"/>
<circle cx="546.8" cy="1127.1" r="5.5"/>
<circle cx="563.0" cy="1127.5" r="5.5"/>
<circle cx="573.7" cy="1127.1" r="5.5"/>
<circle cx="438.5" cy="1132.3" r="5.5"/>
<circle cx="577.2" cy="1132.8" r="5.5"/>
<circle cx="480.6" cy="1137.1" r="5.5"/>
<circle cx="492.1" cy="1137.9" r="5.5"/>
<circle cx="513.6" cy="1138.0" r="5.5"/>
<circle cx="535.3" cy="1137.9" r="5.5"/>
<circle cx="445.1" cy="1141.7" r="5.5"/>
<circle cx="483.2" cy="1142.7" r="5.5"/>
<circle cx="521.9" cy="1141.6" r="5.5"/>
<circle cx="469.4" cy="1147.1" r="5.5"/>
<circle cx="490.9" cy="1146.7" r="5.5"/>
<circle cx="534.9" cy="1147.3" r="5.5"/>
<circle cx="444.4" cy="1151.6" r="5.5"/>
<circle cx="477.3" cy="1151.9" r="5.5"/>
<circle cx="453.1" cy="1156.8" r="5.5"/>
<circle cx="458.9" cy="1156.5" r="5.5"/>
<circle cx="469.9" cy="1155.5" r="5.5"/>
<circle cx="513.0" cy="1156.5" r="5.5"/>
<circle cx="523.5" cy="1157.0" r="5.5"/>
<circle cx="535.3" cy="1156.3" r="5.5"/>
<circle cx="547.1" cy="1156.3" r="5.5"/>
<circle cx="438.7" cy="1161.5" r="5.5"/>
<circle cx="444.2" cy="1161.1" r="5.5"/>
<circle cx="460.9" cy="1161.7" r="5.5"/>
<circle cx="466.4" cy="1161.2" r="5.5"/>
<circle cx="473.2" cy="1161.5" r="5.5"/>
<circle cx="537.6" cy="1161.4" r="5.5"/>
<circle cx="446.8" cy="1166.7" r="5.5"/>
<circle cx="491.2" cy="1165.2" r="5.5"/>
<circle cx="552.3" cy="1165.7" r="5.5"/>
<circle cx="494.3" cy="1169.9" r="5.5"/>
<circle cx="533.1" cy="1170.7" r="5.5"/>
<circle cx="468.7" cy="1176.1" r="5.5"/>
<circle cx="503.0" cy="1175.0" r="5.5"/>
<circle cx="524.5" cy="1176.0" r="5.5"/>
<circle cx="489.0" cy="1179.9" r="5.5"/>
<circle cx="500.6" cy="1180.2" r="5.5"/>
</g>
<polygon points="157.6,1276.0 171.4,1270.5 185.2,1264.9 199.0,1259.4 212.8,1253.9 226.6,1248.3 240.5,1242.8 254.3,1237.3 268.1,1231.7 281.9,1226.2 295.7,1220.6 309.5,1215.1 323.3,1209.5 337.1,1203.9 350.9,1198.4 364.8,1192.8 378.6,1187.2 392.4,1181.5 406.2,1175.9 420.0,1170.2 433.8,1164.4 447.6,1158.6 461.4,1152.6 475.2,1146.5 489.0,1140.3 502.9,1133.8 516.7,1127.3 530.5,1120.6 544.3,1113.9 558.1,1107.1 571.9,1100.3 585.7,1093.4 599.5,1086.6 613.3,1079.7 627.1,1072.8 641.0,1065.9 654.8,1059.0 668.6,1052.1 682.4,1045.1 696.2,1038.2 710.0,1031.3 710.0,1055.9 696.2,1061.4 682.4,1067.0 668.6,1072.5 654.8,1078.1 641.0,1083.6 627.1,1089.2 613.3,1094.8 599.5,1100.4 585.7,1106.0 571.9,1111.6 558.1,1117.2 544.3,1122.9 530.5,1128.6 516.7,1134.4 502.9,1140.3 489.0,1146.4 475.2,1152.6 461.4,1158.9 447.6,1165.4 433.8,1172.1 420.0,1178.8 406.2,1185.5 392.4,1192.3 378.6,1199.2 364.8,1206.0 350.9,1212.9 337.1,1219.8 323.3,1226.7 309.5,1233.6 295.7,1240.5 281.9,1247.4 268.1,1254.4 254.3,1261.3 240.5,1268.2 226.6,1275.1 212.8,1282.1 199.0,1289.0 185.2,1295.9 171.4,1302.9 157.6,1309.8" fill="#999999" fill-opacity="0.4"/>
<polyline points="157.6,1292.9 710,1043.6" fill="none" stroke="#0000ff" stroke-width="5.3"/>
<line x1="89.3" y1="1579.8" x2="723.1" y2="883.4" stroke="#ff0000" stroke-width="5.5"/>
</g>
<rect x="89.9" y="883.4" width="635.3000000000001" height="696.4" fill="none" stroke="#3a3a3a" stroke-width="1.8"/>
<line x1="195.8" y1="1579.8" x2="195.8" y2="1588" stroke="#262626" stroke-width="2.5"/>
<text x="195.8" y="1616.8" font-size="29.7" fill="#4d4d4d" text-anchor="middle" >1.5</text>
<line x1="81.4" y1="1463.8" x2="89.9" y2="1463.8" stroke="#262626" stroke-width="2.5"/>
<text x="73.8" y="1474.2" font-size="29.7" fill="#4d4d4d" text-anchor="end" >1.5</text>
<line x1="372.3" y1="1579.8" x2="372.3" y2="1588" stroke="#262626" stroke-width="2.5"/>
<text x="372.3" y="1616.8" font-size="29.7" fill="#4d4d4d" text-anchor="middle" >2.0</text>
<line x1="81.4" y1="1270.3" x2="89.9" y2="1270.3" stroke="#262626" stroke-width="2.5"/>
<text x="73.8" y="1280.8" font-size="29.7" fill="#4d4d4d" text-anchor="end" >2.0</text>
<line x1="548.8" y1="1579.8" x2="548.8" y2="1588" stroke="#262626" stroke-width="2.5"/>
<text x="548.8" y="1616.8" font-size="29.7" fill="#4d4d4d" text-anchor="middle" >2.5</text>
<line x1="81.4" y1="1076.8" x2="89.9" y2="1076.8" stroke="#262626" stroke-width="2.5"/>
<text x="73.8" y="1087.3" font-size="29.7" fill="#4d4d4d" text-anchor="end" >2.5</text>
<line x1="725.3" y1="1579.8" x2="725.3" y2="1588" stroke="#262626" stroke-width="2.5"/>
<text x="725.3" y="1616.8" font-size="29.7" fill="#4d4d4d" text-anchor="middle" >3.0</text>
<line x1="81.4" y1="883.4" x2="89.9" y2="883.4" stroke="#262626" stroke-width="2.5"/>
<text x="73.8" y="893.9" font-size="29.7" fill="#4d4d4d" text-anchor="end" >3.0</text>
<text x="407.5" y="1646.3" font-size="30.1" fill="#000" text-anchor="middle" >Observed b</text>
<text transform="translate(26.1,1231.6) rotate(-90)" font-size="30.1" text-anchor="middle" fill="#000">Predicted b</text>
<text x="89.2" y="867.0" font-size="35.5" fill="#000" text-anchor="start" >(c)</text>
<text x="117.0" y="972.2" font-size="29.0" fill="#000" text-anchor="start" >RMSE=0.17</text>
<text x="137.0" y="1015.3" font-size="29.0" fill="#000">R</text>
<text x="156.3" y="999.4" font-size="20.5" fill="#000">2</text>
<line x1="176.2" y1="1004.8" x2="191.5" y2="1004.8" stroke="#333" stroke-width="1.6"/>
<line x1="176.2" y1="1010.8" x2="191.5" y2="1010.8" stroke="#333" stroke-width="1.6"/>
<text x="199.2" y="1015.3" font-size="29.0" fill="#000">0.38</text>
<rect x="918.7" y="74.0" width="529.7" height="42.4" fill="#4169e1"/>
<line x1="909.5" y1="95.2" x2="918.7" y2="95.2" stroke="#262626" stroke-width="2.5"/>
<text x="902.5" y="105.7" font-size="29.7" fill="#4d4d4d" text-anchor="end" >MAT</text>
<rect x="918.7" y="159.1" width="447.1" height="42.4" fill="#4169e1"/>
<line x1="909.5" y1="180.3" x2="918.7" y2="180.3" stroke="#262626" stroke-width="2.5"/>
<text x="902.5" y="190.8" font-size="29.7" fill="#4d4d4d" text-anchor="end" >MAP</text>
<rect x="918.7" y="244.1" width="443.0" height="42.4" fill="#d2691e"/>
<line x1="909.5" y1="265.3" x2="918.7" y2="265.3" stroke="#262626" stroke-width="2.5"/>
<text x="902.5" y="275.8" font-size="29.7" fill="#4d4d4d" text-anchor="end" >SOC</text>
<rect x="918.7" y="329.2" width="440.8" height="42.4" fill="#a9a9a9"/>
<line x1="909.5" y1="350.4" x2="918.7" y2="350.4" stroke="#262626" stroke-width="2.5"/>
<text x="902.5" y="360.9" font-size="29.7" fill="#4d4d4d" text-anchor="end" >Slope</text>
<rect x="918.7" y="414.2" width="437.2" height="42.4" fill="#a9a9a9"/>
<line x1="909.5" y1="435.4" x2="918.7" y2="435.4" stroke="#262626" stroke-width="2.5"/>
<text x="902.5" y="445.9" font-size="29.7" fill="#4d4d4d" text-anchor="end" >Altitude</text>
<rect x="918.7" y="499.3" width="305.7" height="42.4" fill="#a9a9a9"/>
<line x1="909.5" y1="520.5" x2="918.7" y2="520.5" stroke="#262626" stroke-width="2.5"/>
<text x="902.5" y="531.0" font-size="29.7" fill="#4d4d4d" text-anchor="end" >Aspect</text>
<rect x="918.7" y="584.4" width="276.8" height="42.4" fill="#d2691e"/>
<line x1="909.5" y1="605.6" x2="918.7" y2="605.6" stroke="#262626" stroke-width="2.5"/>
<text x="902.5" y="616.1" font-size="29.7" fill="#4d4d4d" text-anchor="end" >Clay</text>
<rect x="918.7" y="669.4" width="242.1" height="42.4" fill="#d2691e"/>
<line x1="909.5" y1="690.6" x2="918.7" y2="690.6" stroke="#262626" stroke-width="2.5"/>
<text x="902.5" y="701.1" font-size="29.7" fill="#4d4d4d" text-anchor="end" >Soil type</text>
<rect x="918.7" y="44.8" width="561.5" height="696.5" fill="none" stroke="#3a3a3a" stroke-width="1.8"/>
<line x1="918.7" y1="741.3" x2="918.7" y2="749.5" stroke="#262626" stroke-width="2.5"/>
<text x="918.7" y="778.3" font-size="29.7" fill="#4d4d4d" text-anchor="middle" >0</text>
<line x1="1043.5" y1="741.3" x2="1043.5" y2="749.5" stroke="#262626" stroke-width="2.5"/>
<text x="1043.5" y="778.3" font-size="29.7" fill="#4d4d4d" text-anchor="middle" >10</text>
<line x1="1168.3" y1="741.3" x2="1168.3" y2="749.5" stroke="#262626" stroke-width="2.5"/>
<text x="1168.3" y="778.3" font-size="29.7" fill="#4d4d4d" text-anchor="middle" >20</text>
<line x1="1293.1" y1="741.3" x2="1293.1" y2="749.5" stroke="#262626" stroke-width="2.5"/>
<text x="1293.1" y="778.3" font-size="29.7" fill="#4d4d4d" text-anchor="middle" >30</text>
<line x1="1417.9" y1="741.3" x2="1417.9" y2="749.5" stroke="#262626" stroke-width="2.5"/>
<text x="1417.9" y="778.3" font-size="29.7" fill="#4d4d4d" text-anchor="middle" >40</text>
<text x="1199.5" y="808.6" font-size="30.1" fill="#000" text-anchor="middle" >Variable importance</text>
<text x="917.6" y="28.6" font-size="35.5" fill="#000" text-anchor="start" >(b)</text>
<rect x="918.7" y="912.6" width="492.3" height="42.4" fill="#a9a9a9"/>
<line x1="909.5" y1="933.9" x2="918.7" y2="933.9" stroke="#262626" stroke-width="2.5"/>
<text x="902.5" y="944.4" font-size="29.7" fill="#4d4d4d" text-anchor="end" >Altitude</text>
<rect x="918.7" y="997.6" width="449.8" height="42.4" fill="#4169e1"/>
<line x1="909.5" y1="1018.8" x2="918.7" y2="1018.8" stroke="#262626" stroke-width="2.5"/>
<text x="902.5" y="1029.3" font-size="29.7" fill="#4d4d4d" text-anchor="end" >MAP</text>
<rect x="918.7" y="1082.6" width="432.3" height="42.4" fill="#a9a9a9"/>
<line x1="909.5" y1="1103.8" x2="918.7" y2="1103.8" stroke="#262626" stroke-width="2.5"/>
<text x="902.5" y="1114.3" font-size="29.7" fill="#4d4d4d" text-anchor="end" >Slope</text>
<rect x="918.7" y="1167.6" width="339.3" height="42.4" fill="#a9a9a9"/>
<line x1="909.5" y1="1188.8" x2="918.7" y2="1188.8" stroke="#262626" stroke-width="2.5"/>
<text x="902.5" y="1199.3" font-size="29.7" fill="#4d4d4d" text-anchor="end" >Aspect</text>
<rect x="918.7" y="1252.6" width="313.7" height="42.4" fill="#4169e1"/>
<line x1="909.5" y1="1273.8" x2="918.7" y2="1273.8" stroke="#262626" stroke-width="2.5"/>
<text x="902.5" y="1284.3" font-size="29.7" fill="#4d4d4d" text-anchor="end" >MAT</text>
<rect x="918.7" y="1337.6" width="266.1" height="42.4" fill="#d2691e"/>
<line x1="909.5" y1="1358.8" x2="918.7" y2="1358.8" stroke="#262626" stroke-width="2.5"/>
<text x="902.5" y="1369.3" font-size="29.7" fill="#4d4d4d" text-anchor="end" >SOC</text>
<rect x="918.7" y="1422.6" width="257.8" height="42.4" fill="#d2691e"/>
<line x1="909.5" y1="1443.8" x2="918.7" y2="1443.8" stroke="#262626" stroke-width="2.5"/>
<text x="902.5" y="1454.3" font-size="29.7" fill="#4d4d4d" text-anchor="end" >Clay</text>
<rect x="918.7" y="1507.6" width="135.2" height="42.4" fill="#d2691e"/>
<line x1="909.5" y1="1528.8" x2="918.7" y2="1528.8" stroke="#262626" stroke-width="2.5"/>
<text x="902.5" y="1539.3" font-size="29.7" fill="#4d4d4d" text-anchor="end" >Soil type</text>
<rect x="918.7" y="883.3" width="561.5" height="696.0" fill="none" stroke="#3a3a3a" stroke-width="1.8"/>
<line x1="918.7" y1="1579.3" x2="918.7" y2="1587.5" stroke="#262626" stroke-width="2.5"/>
<text x="918.7" y="1616.3" font-size="29.7" fill="#4d4d4d" text-anchor="middle" >0</text>
<line x1="1059.0" y1="1579.3" x2="1059.0" y2="1587.5" stroke="#262626" stroke-width="2.5"/>
<text x="1059.0" y="1616.3" font-size="29.7" fill="#4d4d4d" text-anchor="middle" >10</text>
<line x1="1199.3" y1="1579.3" x2="1199.3" y2="1587.5" stroke="#262626" stroke-width="2.5"/>
<text x="1199.3" y="1616.3" font-size="29.7" fill="#4d4d4d" text-anchor="middle" >20</text>
<line x1="1339.6" y1="1579.3" x2="1339.6" y2="1587.5" stroke="#262626" stroke-width="2.5"/>
<text x="1339.6" y="1616.3" font-size="29.7" fill="#4d4d4d" text-anchor="middle" >30</text>
<line x1="1479.9" y1="1579.3" x2="1479.9" y2="1587.5" stroke="#262626" stroke-width="2.5"/>
<text x="1479.9" y="1616.3" font-size="29.7" fill="#4d4d4d" text-anchor="middle" >40</text>
<text x="1199.5" y="1646.6" font-size="30.1" fill="#000" text-anchor="middle" >Variable importance</text>
<text x="917.6" y="868.0" font-size="35.5" fill="#000" text-anchor="start" >(d)</text>
</svg></body></html>
